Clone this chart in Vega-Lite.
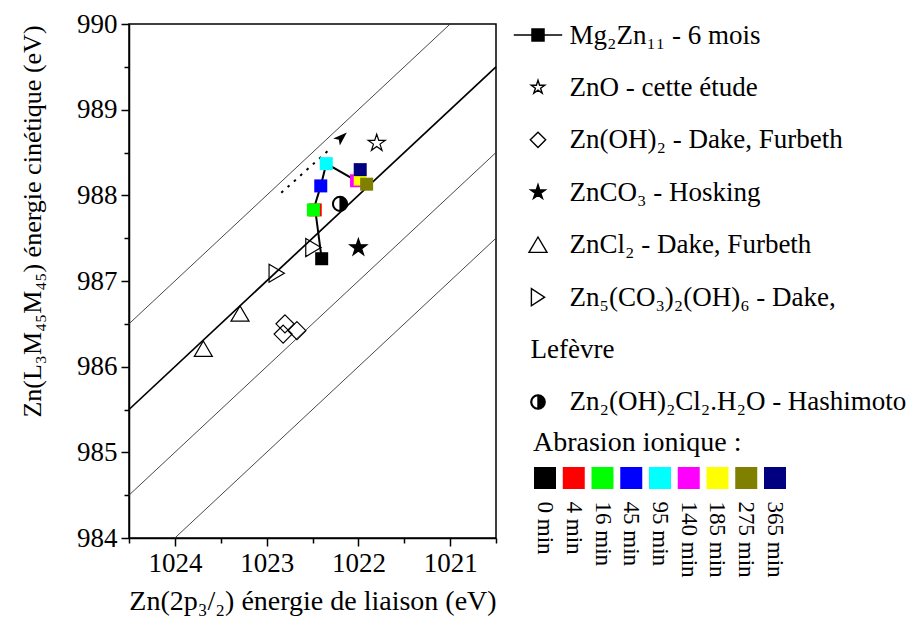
{
  "$schema": "https://vega.github.io/schema/vega-lite/v6.json",
  "background": "white",
  "padding": {"left": 18, "top": 9, "right": 2, "bottom": 2},
  "config": {
    "font": "Liberation Serif",
    "view": {"stroke": null},
    "axis": {"labelColor": "black", "titleColor": "black", "labelFont": "Liberation Serif", "titleFont": "Liberation Serif", "titleFontWeight": "normal", "grid": false},
    "title": {"color": "black", "fontWeight": "normal", "font": "Liberation Serif"}
  },
  "datasets": {
    "lines": [
      {"c": 2011, "be": 1024.5, "ke": 986.5}, {"c": 2011, "be": 1021, "ke": 990},
      {"c": 2010, "be": 1024.5, "ke": 985.5}, {"c": 2010, "be": 1020.5, "ke": 989.5},
      {"c": 2009, "be": 1024.5, "ke": 984.5}, {"c": 2009, "be": 1020.5, "ke": 988.5},
      {"c": 2008, "be": 1024, "ke": 984}, {"c": 2008, "be": 1020.5, "ke": 987.5}
    ],
    "shaft": [{"be": 1022.84, "ke": 988.03}, {"be": 1022.29, "ke": 988.56}],
    "head": [{"be": 1022.19, "ke": 988.67}],
    "mg": [
      {"t": "0 min", "min": 0, "be": 1022.40, "ke": 987.26},
      {"t": "4 min", "min": 4, "be": 1022.47, "ke": 987.83},
      {"t": "16 min", "min": 16, "be": 1022.49, "ke": 987.83},
      {"t": "45 min", "min": 45, "be": 1022.41, "ke": 988.11},
      {"t": "95 min", "min": 95, "be": 1022.35, "ke": 988.37},
      {"t": "140 min", "min": 140, "be": 1022.02, "ke": 988.17},
      {"t": "185 min", "min": 185, "be": 1021.98, "ke": 988.19},
      {"t": "275 min", "min": 275, "be": 1021.91, "ke": 988.13},
      {"t": "365 min", "min": 365, "be": 1021.98, "ke": 988.30}
    ],
    "refs": [
      {"series": "ZnO", "be": 1021.80, "ke": 988.61},
      {"series": "ZnOH2", "be": 1022.80, "ke": 986.50},
      {"series": "ZnOH2", "be": 1022.82, "ke": 986.38},
      {"series": "ZnOH2", "be": 1022.67, "ke": 986.42},
      {"series": "ZnCO3", "be": 1022.00, "ke": 987.39},
      {"series": "ZnCl2", "be": 1023.69, "ke": 986.21},
      {"series": "ZnCl2", "be": 1023.29, "ke": 986.62},
      {"series": "Zn5", "be": 1022.89, "ke": 987.09},
      {"series": "Zn5", "be": 1022.49, "ke": 987.39},
      {"series": "ZnOHCl", "be": 1022.20, "ke": 987.90}
    ],
    "legend": [
      {"label": "Mg₂Zn₁₁ -  6 mois"},
      {"label": "ZnO - cette étude"},
      {"label": "Zn(OH)₂ - Dake, Furbeth"},
      {"label": "ZnCO₃ - Hosking"},
      {"label": "ZnCl₂ - Dake, Furbeth"},
      {"label": "Zn₅(CO₃)₂(OH)₆ -  Dake,"},
      {"label": "Zn₂(OH)₂Cl₂.H₂O - Hashimoto"}
    ]
  },
  "resolve": {"scale": {"shape": "independent", "fill": "independent", "color": "independent"}},
  "spacing": 9,
  "hconcat": [
    {
      "width": 367,
      "height": 514,
      "view": {"stroke": "black", "strokeWidth": 1.5},
      "layer": [
        {
          "data": {"name": "lines"},
          "transform": [{"filter": "datum.c != 2010"}],
          "mark": {"type": "line", "color": "#333333", "strokeWidth": 0.9},
          "encoding": {
            "x": {"field": "be", "type": "quantitative",
              "scale": {"domain": [1020.5, 1024.5], "reverse": true, "nice": false, "zero": false},
              "axis": {
                "title": "Zn(2p₃/₂) énergie de liaison (eV)",
                "values": [1020.5, 1021, 1021.5, 1022, 1022.5, 1023, 1023.5, 1024, 1024.5],
                "labelExpr": "datum.value % 1 == 0 ? format(datum.value, 'd') : ''",
                "domainColor": "black", "domainWidth": 1.5,
                "tickColor": "black", "tickWidth": 1.5,
                "tickSize": {"condition": {"test": "datum.value % 1 != 0", "value": 5}, "value": 8},
                "labelFontSize": 27, "labelPadding": 4, "labelFlush": false, "labelOverlap": false,
                "titleFontSize": 28, "titlePadding": 11
              }},
            "y": {"field": "ke", "type": "quantitative",
              "scale": {"domain": [984, 990], "nice": false, "zero": false},
              "axis": {
                "title": "Zn(L₃M₄₅M₄₅) énergie cinétique (eV)",
                "values": [984, 984.5, 985, 985.5, 986, 986.5, 987, 987.5, 988, 988.5, 989, 989.5, 990],
                "labelExpr": "datum.value % 1 == 0 ? format(datum.value, 'd') : ''",
                "domainColor": "black", "domainWidth": 1.5,
                "tickColor": "black", "tickWidth": 1.5,
                "tickSize": {"condition": {"test": "datum.value % 1 != 0", "value": 5}, "value": 8},
                "labelFontSize": 27, "labelPadding": 4, "labelFlush": false, "labelOverlap": false,
                "titleFontSize": 26, "titlePadding": 31, "titleY": 197
              }},
            "detail": {"field": "c"}
          }
        },
        {
          "data": {"name": "lines"},
          "transform": [{"filter": "datum.c == 2010"}],
          "mark": {"type": "line", "color": "black", "strokeWidth": 1.7},
          "encoding": {
            "x": {"field": "be", "type": "quantitative"},
            "y": {"field": "ke", "type": "quantitative"}
          }
        },
        {
          "data": {"name": "shaft"},
          "mark": {"type": "line", "color": "black", "strokeWidth": 2, "strokeDash": [2.5, 6]},
          "encoding": {
            "x": {"field": "be", "type": "quantitative"},
            "y": {"field": "ke", "type": "quantitative"}
          }
        },
        {
          "data": {"name": "head"},
          "mark": {"type": "point", "filled": true, "color": "black", "opacity": 1, "size": 260, "angle": 47,
            "shape": "M0,-1L0.6,0.75L0,0.35L-0.6,0.75Z"},
          "encoding": {
            "x": {"field": "be", "type": "quantitative"},
            "y": {"field": "ke", "type": "quantitative"}
          }
        },
        {
          "data": {"name": "mg"},
          "mark": {"type": "line", "color": "black", "strokeWidth": 2},
          "encoding": {
            "x": {"field": "be", "type": "quantitative"},
            "y": {"field": "ke", "type": "quantitative"},
            "order": {"field": "min", "type": "quantitative"}
          }
        },
        {
          "data": {"name": "mg"},
          "mark": {"type": "point", "shape": "square", "filled": true, "opacity": 1, "size": 169},
          "encoding": {
            "x": {"field": "be", "type": "quantitative"},
            "y": {"field": "ke", "type": "quantitative"},
            "order": {"field": "min", "type": "quantitative"},
            "color": {"field": "t", "type": "nominal", "legend": null,
              "scale": {"domain": ["0 min", "4 min", "16 min", "45 min", "95 min", "140 min", "185 min", "275 min", "365 min"],
                "range": ["#000000", "#ff0000", "#00ff00", "#0000ff", "#00ffff", "#ff00ff", "#ffff00", "#808000", "#000080"]}}
          }
        },
        {
          "data": {"name": "refs"},
          "mark": {"type": "point", "stroke": "black", "strokeWidth": 1.2, "opacity": 1, "size": 324},
          "encoding": {
            "x": {"field": "be", "type": "quantitative"},
            "y": {"field": "ke", "type": "quantitative"},
            "shape": {"field": "series", "type": "nominal", "legend": null,
              "scale": {"domain": ["ZnO", "ZnOH2", "ZnCO3", "ZnCl2", "Zn5", "ZnOHCl"],
                "range": [
                  "M0,-1L0.2245,-0.309L0.951,-0.309L0.363,0.118L0.588,0.809L0,0.382L-0.588,0.809L-0.363,0.118L-0.951,-0.309L-0.2245,-0.309Z",
                  "M0,-1L1,0L0,1L-1,0Z",
                  "M0,-1L0.2245,-0.309L0.951,-0.309L0.363,0.118L0.588,0.809L0,0.382L-0.588,0.809L-0.363,0.118L-0.951,-0.309L-0.2245,-0.309Z",
                  "M0,-0.85L1,0.85L-1,0.85Z",
                  "M-0.85,-1L0.85,0L-0.85,1Z",
                  "M0,-0.83A0.83,0.83,0,1,1,0,0.83A0.83,0.83,0,1,1,0,-0.83ZM0,-0.74A0.74,0.74,0,1,0,0,0.74A0.74,0.74,0,1,0,0,-0.74ZM0,-0.74A0.74,0.74,0,0,1,0,0.74Z"
                ]}},
            "fill": {"field": "series", "type": "nominal", "legend": null,
              "scale": {"domain": ["ZnO", "ZnOH2", "ZnCO3", "ZnCl2", "Zn5", "ZnOHCl"],
                "range": ["transparent", "transparent", "black", "transparent", "transparent", "black"]}}
          }
        }
      ]
    },
    {
      "spacing": 14,
      "resolve": {"scale": {"shape": "independent", "fill": "independent", "color": "independent"}},
      "vconcat": [
        {
          "width": 48,
          "height": 389,
          "data": {"name": "legend"},
          "mark": {"type": "point", "stroke": "black", "strokeWidth": 1.4, "opacity": 1, "size": 484},
          "encoding": {
            "y": {"field": "label", "type": "nominal", "sort": null,
              "scale": {"type": "point", "padding": 0.21,
                "domain": ["Mg₂Zn₁₁ -  6 mois", "ZnO - cette étude", "Zn(OH)₂ - Dake, Furbeth", "ZnCO₃ - Hosking", "ZnCl₂ - Dake, Furbeth", "Zn₅(CO₃)₂(OH)₆ -  Dake,", "Lefèvre", "Zn₂(OH)₂Cl₂.H₂O - Hashimoto"]},
              "axis": {"orient": "right", "title": null, "domain": false, "ticks": false, "tickSize": 0,
                "labelFontSize": 27, "labelLimit": 600, "labelOverlap": false,
                "labelPadding": {"condition": {"test": "datum.value == 'Lefèvre'", "value": -32}, "value": 7}}},
            "shape": {"field": "label", "type": "nominal", "legend": null,
              "scale": {"domain": ["Mg₂Zn₁₁ -  6 mois", "ZnO - cette étude", "Zn(OH)₂ - Dake, Furbeth", "ZnCO₃ - Hosking", "ZnCl₂ - Dake, Furbeth", "Zn₅(CO₃)₂(OH)₆ -  Dake,", "Zn₂(OH)₂Cl₂.H₂O - Hashimoto"],
                "range": [
                  "M-2.2,0H2.2M-0.55,-0.55H0.55V0.55H-0.55Z",
                  "M0,-0.65L0.146,-0.201L0.618,-0.201L0.236,0.077L0.382,0.526L0,0.248L-0.382,0.526L-0.236,0.077L-0.618,-0.201L-0.146,-0.201Z",
                  "M0,-0.7L0.7,0L0,0.7L-0.7,0Z",
                  "M0,-0.7L0.157,-0.216L0.666,-0.216L0.254,0.083L0.412,0.566L0,0.267L-0.412,0.566L-0.254,0.083L-0.666,-0.216L-0.157,-0.216Z",
                  "M0,-0.7L0.82,0.7L-0.82,0.7Z",
                  "M-0.6,-0.78L0.6,0L-0.6,0.78Z",
                  "M0,-0.65A0.65,0.65,0,1,1,0,0.65A0.65,0.65,0,1,1,0,-0.65ZM0,-0.58A0.58,0.58,0,1,0,0,0.58A0.58,0.58,0,1,0,0,-0.58ZM0,-0.58A0.58,0.58,0,0,1,0,0.58Z"
                ]}},
            "fill": {"field": "label", "type": "nominal", "legend": null,
              "scale": {"domain": ["Mg₂Zn₁₁ -  6 mois", "ZnO - cette étude", "Zn(OH)₂ - Dake, Furbeth", "ZnCO₃ - Hosking", "ZnCl₂ - Dake, Furbeth", "Zn₅(CO₃)₂(OH)₆ -  Dake,", "Zn₂(OH)₂Cl₂.H₂O - Hashimoto"],
                "range": ["black", "transparent", "transparent", "black", "transparent", "transparent", "black"]}}
          }
        },
        {
          "width": 292,
          "height": 22,
          "data": {"name": "mg"},
          "title": {"text": "Abrasion ionique :", "anchor": "start", "fontSize": 28, "dx": 19, "offset": 10},
          "mark": {"type": "rect"},
          "encoding": {
            "x": {"field": "t", "type": "ordinal", "sort": null,
              "scale": {"paddingInner": 0.235, "paddingOuter": 0.696},
              "axis": {"orient": "bottom", "title": null, "labelAngle": 90, "domain": false, "ticks": false, "tickSize": 0,
                "labelFontSize": 23, "labelPadding": 12, "labelOverlap": false}},
            "color": {"field": "t", "type": "nominal", "legend": null,
              "scale": {"domain": ["0 min", "4 min", "16 min", "45 min", "95 min", "140 min", "185 min", "275 min", "365 min"],
                "range": ["#000000", "#ff0000", "#00ff00", "#0000ff", "#00ffff", "#ff00ff", "#ffff00", "#808000", "#000080"]}}
          }
        }
      ]
    }
  ]
}
